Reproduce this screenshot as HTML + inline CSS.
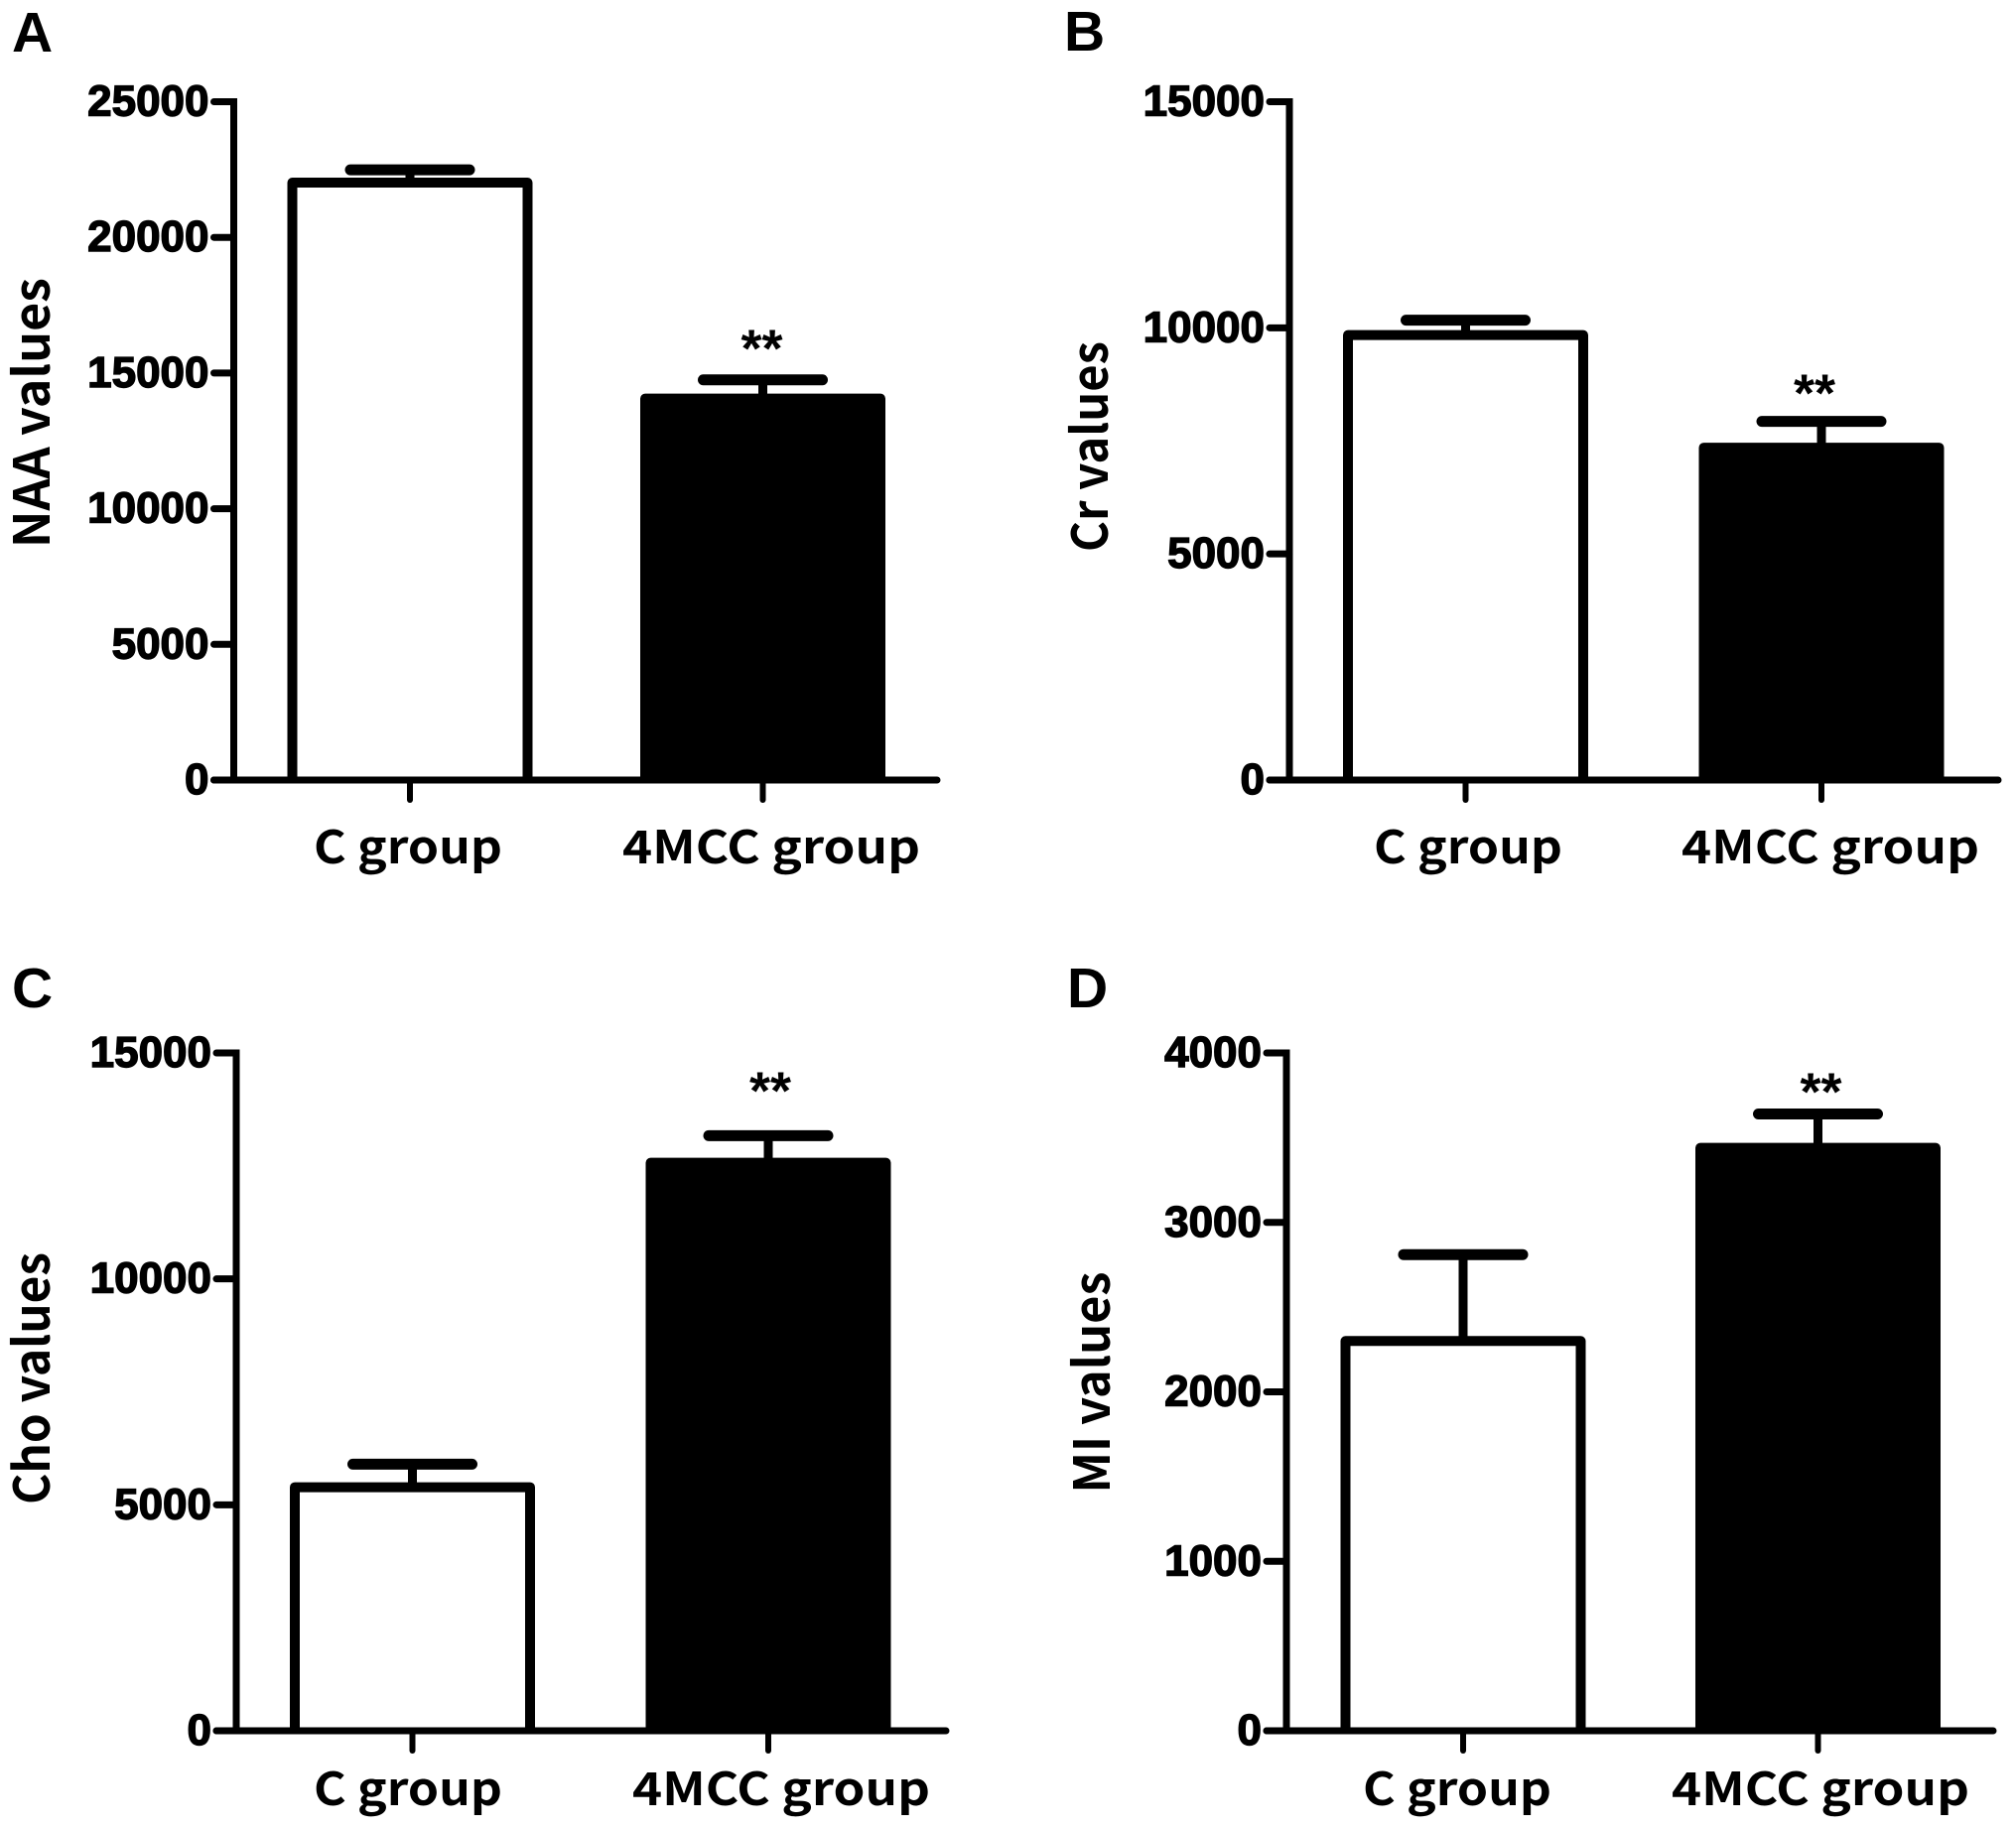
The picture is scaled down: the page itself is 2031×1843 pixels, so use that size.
<!DOCTYPE html>
<html lang="en">
<head>
<meta charset="utf-8">
<title>NAA, Cr, Cho and MI values by group</title>
<style>
html,body{margin:0;padding:0;background:#fff;}
body{width:2031px;height:1843px;overflow:hidden;}
svg{display:block;}
.tick{font-family:"Liberation Sans",sans-serif;font-weight:700;font-size:44px;fill:#000;stroke:#000;stroke-width:1.4px;}
.cat,.ytitle{font-family:"Noto Sans CJK SC","Liberation Sans",sans-serif;font-weight:700;fill:#000;}
.cat{font-size:46px;}
.ytitle{font-size:50px;}
.letter{font-family:"Liberation Sans",sans-serif;font-weight:700;font-size:57px;fill:#000;}
.stars{font-family:"Liberation Sans",sans-serif;font-weight:700;font-size:54px;fill:#000;}
</style>
</head>
<body>
<svg id="fig" xmlns="http://www.w3.org/2000/svg" width="2031" height="1843" viewBox="0 0 2031 1843"></svg>
<script>
/* ---------- data ---------- */
const naaCategories = ['C group', '4MCC group'];
const naaMeans = [22020, 14060];
const naaErrors = [470, 690];
const naaTicks = [0, 5000, 10000, 15000, 20000, 25000];
const naaStars = ['', '**'];

const crCategories = ['C group', '4MCC group'];
const crMeans = [9840, 7350];
const crErrors = [330, 580];
const crTicks = [0, 5000, 10000, 15000];
const crStars = ['', '**'];

const choCategories = ['C group', '4MCC group'];
const choMeans = [5390, 12570];
const choErrors = [510, 600];
const choTicks = [0, 5000, 10000, 15000];
const choStars = ['', '**'];

const miCategories = ['C group', '4MCC group'];
const miMeans = [2300, 3440];
const miErrors = [510, 200];
const miTicks = [0, 1000, 2000, 3000, 4000];
const miStars = ['', '**'];

/* ---------- layout ---------- */
const panels = [
  {id:'a', letter:'A', lx:12, ly:52, title:'NAA values', tx:50, tc:416, tl:272,
   ax:235.5, top:102.5, y0:786, xEnd:944, c:[413,768.5], labelBase:870, labelC:[411,777], labelW:[190,300], starDx:-1, starOff:-13,
   cats:naaCategories, means:naaMeans, errs:naaErrors, ticks:naaTicks, stars:naaStars},
  {id:'b', letter:'B', lx:1072, ly:51, title:'Cr values', tx:1116, tc:450, tl:212,
   ax:1299, top:102.5, y0:786, xEnd:2013, c:[1476.5,1835], labelBase:870, labelC:[1479,1844], labelW:[190,300], starDx:-7, starOff:-10,
   cats:crCategories, means:crMeans, errs:crErrors, ticks:crTicks, stars:crStars},
  {id:'c', letter:'C', lx:12, ly:1015, title:'Cho values', tx:50, tc:1389, tl:254,
   ax:238, top:1061, y0:1744, xEnd:953, c:[415.5,774], labelBase:1819, labelC:[411,787], labelW:[190,300], starDx:2, starOff:-27,
   cats:choCategories, means:choMeans, errs:choErrors, ticks:choTicks, stars:choStars},
  {id:'d', letter:'D', lx:1075, ly:1015, title:'MI values', tx:1118, tc:1393, tl:223,
   ax:1296, top:1061, y0:1744, xEnd:2008, c:[1474,1831.5], labelBase:1819, labelC:[1468,1834], labelW:[190,300], starDx:3, starOff:-4,
   cats:miCategories, means:miMeans, errs:miErrors, ticks:miTicks, stars:miStars}
];
const BAR_W = 247, BAR_SW = 10, CAP_W = 120, CAP_SW = 11, STEM_SW = 9, AXIS_SW = 7, TICK_LEN = 20, XTICK_LEN = 20;

/* ---------- drawing ---------- */
const SVGNS = 'http://www.w3.org/2000/svg';
const fig = document.getElementById('fig');
function mk(parent, tag, attrs, txt){
  const el = document.createElementNS(SVGNS, tag);
  for (const k in attrs) el.setAttribute(k, attrs[k]);
  if (txt !== undefined) el.textContent = txt;
  parent.appendChild(el);
  return el;
}
panels.forEach(function(p){
  const maxV = p.ticks[p.ticks.length - 1];
  const yScale = function(v){ return p.y0 - (v / maxV) * (p.y0 - p.top); };
  const xScale = function(i){ return p.c[i]; };

  const g = mk(fig, 'g', {});
  
  

  const letter = mk(g, 'text', {class:'letter', x:p.lx, y:p.ly}, p.letter);
  
  

  const title = mk(g, 'text', {class:'ytitle', 'text-anchor':'middle', textLength:p.tl, lengthAdjust:'spacingAndGlyphs',
    transform:'translate(' + p.tx + ' ' + p.tc + ') rotate(-90)'}, p.title);
  
  

  p.cats.forEach(function(cat, i){
    const v = p.means[i], top = yScale(v), cx = xScale(i);
    const capY = yScale(v + p.errs[i]);
    const xL = cx - BAR_W / 2 + BAR_SW / 2, xR = cx + BAR_W / 2 - BAR_SW / 2;

    const stem = mk(g, 'line', {x1:cx, x2:cx, y1:capY, y2:top, stroke:'#000', 'stroke-width':STEM_SW});
    
    

    const cap = mk(g, 'line', {x1:cx - CAP_W / 2, x2:cx + CAP_W / 2, y1:capY, y2:capY, stroke:'#000',
      'stroke-width':CAP_SW, 'stroke-linecap':'round'});
    
    

    const bar = mk(g, 'path', {d:'M' + xL + ' ' + p.y0 + 'V' + top + 'H' + xR + 'V' + p.y0,
      fill:i === 0 ? '#fff' : '#000', stroke:'#000', 'stroke-width':BAR_SW, 'stroke-linejoin':'round'});
    
    

    const xt = mk(g, 'line', {x1:cx, x2:cx, y1:p.y0, y2:p.y0 + XTICK_LEN, stroke:'#000', 'stroke-width':AXIS_SW - 1, 'stroke-linecap':'round'});
    
    

    const lab = mk(g, 'text', {class:'cat', x:p.labelC[i], y:p.labelBase, 'text-anchor':'middle',
      textLength:p.labelW[i], lengthAdjust:'spacingAndGlyphs'}, cat);
    
    

    if (p.stars[i]) {
      const st = mk(g, 'text', {class:'stars', x:cx + p.starDx, y:capY + p.starOff, 'text-anchor':'middle'}, p.stars[i]);
      
      
    }
  });

  const yAxis = mk(g, 'line', {x1:p.ax, x2:p.ax, y1:p.top - AXIS_SW / 2, y2:p.y0 + AXIS_SW / 2, stroke:'#000', 'stroke-width':AXIS_SW});
  
  

  const xAxis = mk(g, 'line', {x1:p.ax - TICK_LEN, x2:p.xEnd, y1:p.y0, y2:p.y0, stroke:'#000', 'stroke-width':AXIS_SW, 'stroke-linecap':'round'});
  
  

  p.ticks.forEach(function(t){
    const y = yScale(t);
    const tk = mk(g, 'line', {x1:p.ax - TICK_LEN, x2:p.ax, y1:y, y2:y, stroke:'#000', 'stroke-width':AXIS_SW, 'stroke-linecap':'round'});
    
    

    const lb = mk(g, 'text', {class:'tick', x:p.ax - 25, y:y + 14, 'text-anchor':'end'}, String(t));
    
    
  });
});
</script>
</body>
</html>
